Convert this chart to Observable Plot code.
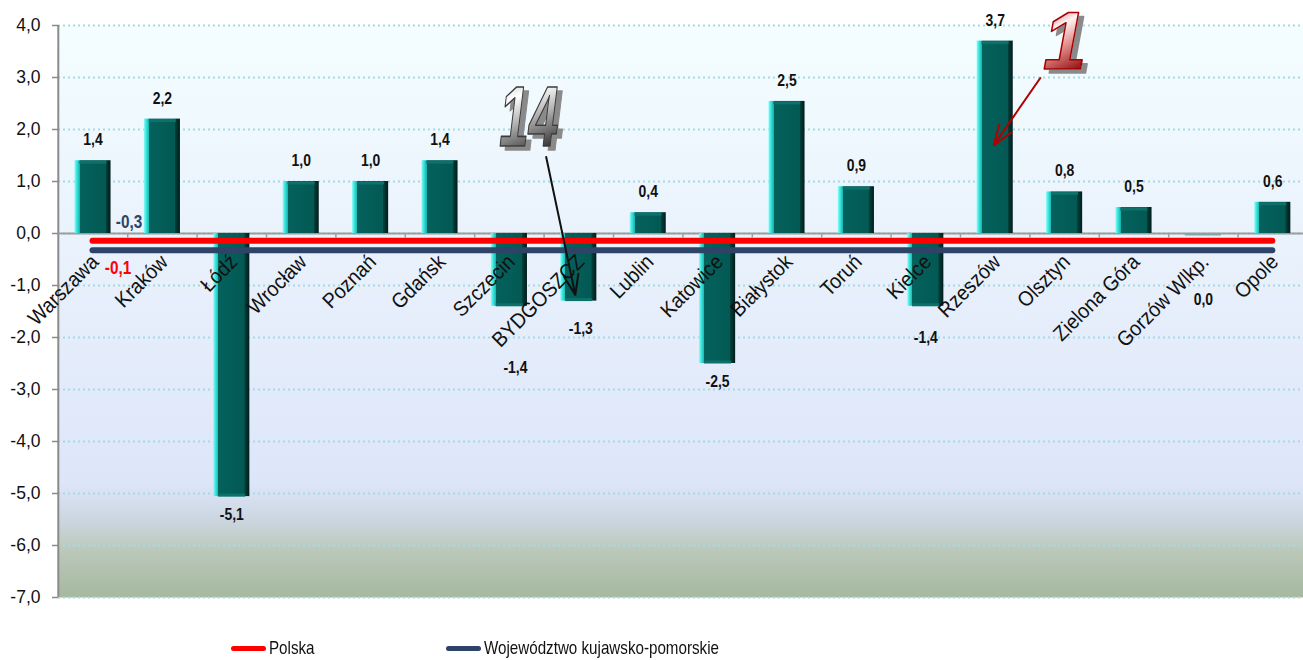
<!DOCTYPE html>
<html>
<head>
<meta charset="utf-8">
<script src="https://cdn.jsdelivr.net/npm/d3@7"></script>
<script src="https://cdn.jsdelivr.net/npm/@observablehq/plot@0.6"></script>
<style>
  html, body { margin: 0; padding: 0; background: #ffffff; }
  #wrap { position: relative; width: 1303px; height: 660px; overflow: hidden; }
  #legend { position: absolute; left: 0; top: 622px; width: 1303px; height: 38px;
            font-family: 'Liberation Sans', Arial, sans-serif; font-size: 18.5px; color: #111; }
  .item { position: absolute; top: 15px; display: flex; align-items: center; height: 22px; white-space: nowrap; }
  .swatch { width: 35px; height: 5px; border-radius: 3px; margin-right: 3px; flex: none; }
  .lbl { display: inline-block; transform: scaleX(0.82); transform-origin: 0 50%; }
</style>
</head>
<body>
<div id="wrap"><div id="chart"></div><div id="legend"></div></div>
<script>
// ---------- data ----------
const cities = ["Warszawa", "Kraków", "Łódź", "Wrocław", "Poznań", "Gdańsk", "Szczecin", "BYDGOSZCZ",
  "Lublin", "Katowice", "Białystok", "Toruń", "Kielce", "Rzeszów", "Olsztyn", "Zielona Góra", "Gorzów Wlkp.", "Opole"];
const values = [1.4, 2.2, -5.06, 1.0, 1.0, 1.4, -1.4, -1.3, 0.4, -2.5, 2.54, 0.9, -1.4, 3.7, 0.8, 0.5, 0.0, 0.6];
const polskaValue = -0.14;
const regionValue = -0.32;
const seriesNames = ["Polska", "Województwo kujawsko-pomorskie"];
const yTicks = [-7, -6, -5, -4, -3, -2, -1, 0, 1, 2, 3, 4];
const ranks = [{city: "BYDGOSZCZ", rank: "14"}, {city: "Rzeszów", rank: "1"}];

// ---------- styling / layout config ----------
const FONT = "'Liberation Sans', Arial, sans-serif";
const RED = "#ff0000", NAVY = "#2d4468";
const fmt = v => (Math.round(Math.abs(v) * 10) / 10 * Math.sign(v)).toFixed(1).replace(".", ",").replace(/^-0,0$/, "0,0");
// manual nudges of some value labels (pixels), as in the original chart
const labelNudge = {"Szczecin": {dx: 6, dy: 61}, "BYDGOSZCZ": {dx: 2, dy: 27}, "Kielce": {dx: 0, dy: 31}, "Gorzów Wlkp.": {dx: 0, dy: 66}};
const rankLayout = {
  "14": {tx: -0.72, ty: 2.21, ax1: -0.47, ay1: 1.47, ax2: -0.05, ay2: -1.18, size: 86, squeeze: 0.62, fill: "url(#silverGrad)", stroke: "#3a3a3a", arrow: "#111111"},
  "1":  {tx: 1.0, ty: 3.66, ax1: 0.65, ay1: 2.99, ax2: -0.02, ay2: 1.70, size: 82, squeeze: 0.95, fill: "url(#redGrad)", stroke: "#a80000", arrow: "#b00000"}
};

const data = cities.map((city, i) => ({i, city, value: values[i]}));
const half = 0.26;
const valStyle = {fontWeight: "bold", fontSize: 17, fill: "#111", ariaDescription: "val"};

const valueLabelMarks = [];
valueLabelMarks.push(Plot.text(data, {filter: d => d.value > 0, x: "i", y: "value", text: d => fmt(d.value), dy: -21, ...valStyle}));
valueLabelMarks.push(Plot.text(data, {filter: d => d.value <= 0 && !labelNudge[d.city], x: "i", y: "value", text: d => fmt(d.value), dy: 18, ...valStyle}));
for (const [city, n] of Object.entries(labelNudge)) {
  valueLabelMarks.push(Plot.text(data, {filter: d => d.city === city, x: "i", y: "value", text: d => fmt(d.value), dx: n.dx, dy: n.dy, ...valStyle}));
}

const rankData = ranks.map(r => {
  const i = cities.indexOf(r.city), L = rankLayout[r.rank];
  return {...r, tx: i + L.tx, ty: L.ty, x1: i + L.ax1, y1: L.ay1, x2: i + L.ax2, y2: L.ay2, L};
});
const rankMarks = [];
for (const r of rankData) {
  rankMarks.push(Plot.arrow([r], {x1: "x1", y1: "y1", x2: "x2", y2: "y2", stroke: r.L.arrow, strokeWidth: 2, headLength: 16, headAngle: 40}));
  rankMarks.push(Plot.text([r], {x: "tx", y: "ty", text: "rank", fontSize: r.L.size, fontWeight: "bold", fontStyle: "italic",
    fill: r.L.fill, stroke: r.L.stroke, strokeWidth: 1.6, paintOrder: "normal", ariaDescription: "rank" + r.rank}));
}

const plot = Plot.plot({
  width: 1303, height: 622,
  marginLeft: 58, marginRight: 0, marginTop: 25, marginBottom: 25,
  style: {fontFamily: FONT, fontSize: "16px", color: "#111", background: "transparent", overflow: "visible"},
  x: {domain: [-0.5, cities.length - 0.5], range: [57.8, 1307], axis: null},
  y: {domain: [-7, 4], range: [597, 25], axis: null},
  marks: [
    Plot.frame({fill: "url(#bgGrad)"}),
    Plot.ruleY(yTicks, {stroke: "#a6d9e6", strokeWidth: 1.8, strokeDasharray: "2,3"}),
    Plot.axisY(yTicks, {tickFormat: fmt, tickSize: 6, tickPadding: 12, stroke: "#8a8a8a", strokeWidth: 1.5, fill: "#111", fontSize: 17.5}),
    Plot.ruleX([-0.5], {stroke: "#8a8a8a", strokeWidth: 2}),
    Plot.ruleY([0], {stroke: "#9d9d9d", strokeWidth: 2}),
    Plot.ruleX(d3.range(cities.length - 1).map(i => i + 0.5), {y1: 0, y2: -0.085, stroke: "#9d9d9d", strokeWidth: 1.5}),
    Plot.rect(data, {filter: d => d.value !== 0, x1: d => d.i - half, x2: d => d.i + half, y1: 0, y2: "value", fill: "url(#barGrad)"}),
    Plot.ruleY(data, {filter: d => d.value > 0, y: "value", x1: d => d.i - half + 0.07, x2: d => d.i + half - 0.06, dy: 1.5, stroke: "#0c716b", strokeWidth: 3}),
    Plot.ruleY(data, {filter: d => d.value < 0, y: "value", x1: d => d.i - half + 0.07, x2: d => d.i + half - 0.06, dy: -1.5, stroke: "#0c716b", strokeWidth: 3}),
    Plot.ruleY(data, {filter: d => d.value === 0, y: "value", x1: d => d.i - half, x2: d => d.i + half, dy: 1, stroke: "#7fa8a6", strokeWidth: 2}),
    Plot.ruleY([regionValue], {x1: 0, x2: cities.length - 1, stroke: NAVY, strokeWidth: 6, strokeLinecap: "round"}),
    Plot.ruleY([polskaValue], {x1: 0, x2: cities.length - 1, stroke: RED, strokeWidth: 6, strokeLinecap: "round"}),
    Plot.text(data, {x: "i", y: 0, text: "city", rotate: -45, textAnchor: "end", dx: 2, dy: 25, fontSize: 21, fill: "#111", ariaDescription: "cat"}),
    ...valueLabelMarks,
    Plot.text([polskaValue], {x: 0, y: d => d, text: d => fmt(d), dx: 25, dy: 27, fill: RED, fontWeight: "bold", fontSize: 18, ariaDescription: "ref"}),
    Plot.text([regionValue], {x: 0, y: d => d, text: d => fmt(d), dx: 36, dy: -28, fill: NAVY, fontWeight: "bold", fontSize: 18, ariaDescription: "ref"}),
    ...rankMarks
  ]
});

const svgNS = "http://www.w3.org/2000/svg";
const svg = plot.tagName.toLowerCase() === "svg" ? plot : plot.querySelector("svg");
const defs = document.createElementNS(svgNS, "defs");
defs.innerHTML = `
  <linearGradient id="bgGrad" x1="0" y1="0" x2="0" y2="1">
    <stop offset="0" stop-color="#f4feff"/>
    <stop offset="0.40" stop-color="#e9f1fc"/>
    <stop offset="0.80" stop-color="#dde6f9"/>
    <stop offset="0.86" stop-color="#ccd7e3"/>
    <stop offset="0.92" stop-color="#bac8b9"/>
    <stop offset="1" stop-color="#a6b89f"/>
  </linearGradient>
  <linearGradient id="barGrad" x1="0" y1="0" x2="1" y2="0">
    <stop offset="0" stop-color="#8ffcf6"/>
    <stop offset="0.05" stop-color="#45ece5"/>
    <stop offset="0.14" stop-color="#15b7b0"/>
    <stop offset="0.145" stop-color="#04615c"/>
    <stop offset="0.86" stop-color="#035954"/>
    <stop offset="0.87" stop-color="#02403c"/>
    <stop offset="1" stop-color="#011c1a"/>
  </linearGradient>
  <linearGradient id="silverGrad" x1="0" y1="0" x2="0.25" y2="1">
    <stop offset="0" stop-color="#9c9c9c"/>
    <stop offset="0.35" stop-color="#ffffff"/>
    <stop offset="0.6" stop-color="#b5b5b5"/>
    <stop offset="1" stop-color="#2a2a2a"/>
  </linearGradient>
  <linearGradient id="redGrad" x1="0" y1="0" x2="0.25" y2="1">
    <stop offset="0" stop-color="#b80000"/>
    <stop offset="0.4" stop-color="#fff2f2"/>
    <stop offset="0.65" stop-color="#e08a8a"/>
    <stop offset="1" stop-color="#8a0000"/>
  </linearGradient>
  <filter id="dropShadow" x="-20%" y="-20%" width="150%" height="150%">
    <feDropShadow dx="5" dy="4" stdDeviation="0.4" flood-color="#8a8a8a" flood-opacity="1"/>
  </filter>`;
svg.insertBefore(defs, svg.firstChild);

document.getElementById("chart").appendChild(plot);

// horizontally condense texts (narrow face of the original) without touching positions
function squeeze(selector, sx) {
  svg.querySelectorAll(selector).forEach(t => {
    const len = t.getComputedTextLength();
    if (len > 0) {
      t.setAttribute("textLength", (len * sx).toFixed(2));
      t.setAttribute("lengthAdjust", "spacingAndGlyphs");
    }
  });
}
squeeze('g[aria-description="cat"] text', 0.92);
squeeze('g[aria-description="val"] text', 0.82);
squeeze('g[aria-description="ref"] text', 0.85);
for (const r of ranks) {
  squeeze(`g[aria-description="rank${r.rank}"] text`, rankLayout[r.rank].squeeze);
  svg.querySelectorAll(`g[aria-description="rank${r.rank}"]`).forEach(g => g.setAttribute("filter", "url(#dropShadow)"));
}

// legend
const legend = document.getElementById("legend");
const legendPos = [231, 446];
const legendColors = [RED, NAVY];
seriesNames.forEach((name, k) => {
  const item = document.createElement("div");
  item.className = "item";
  item.style.left = legendPos[k] + "px";
  item.innerHTML = `<span class="swatch" style="background:${legendColors[k]}"></span><span class="lbl">${name}</span>`;
  legend.appendChild(item);
});
</script>
</body>
</html>
